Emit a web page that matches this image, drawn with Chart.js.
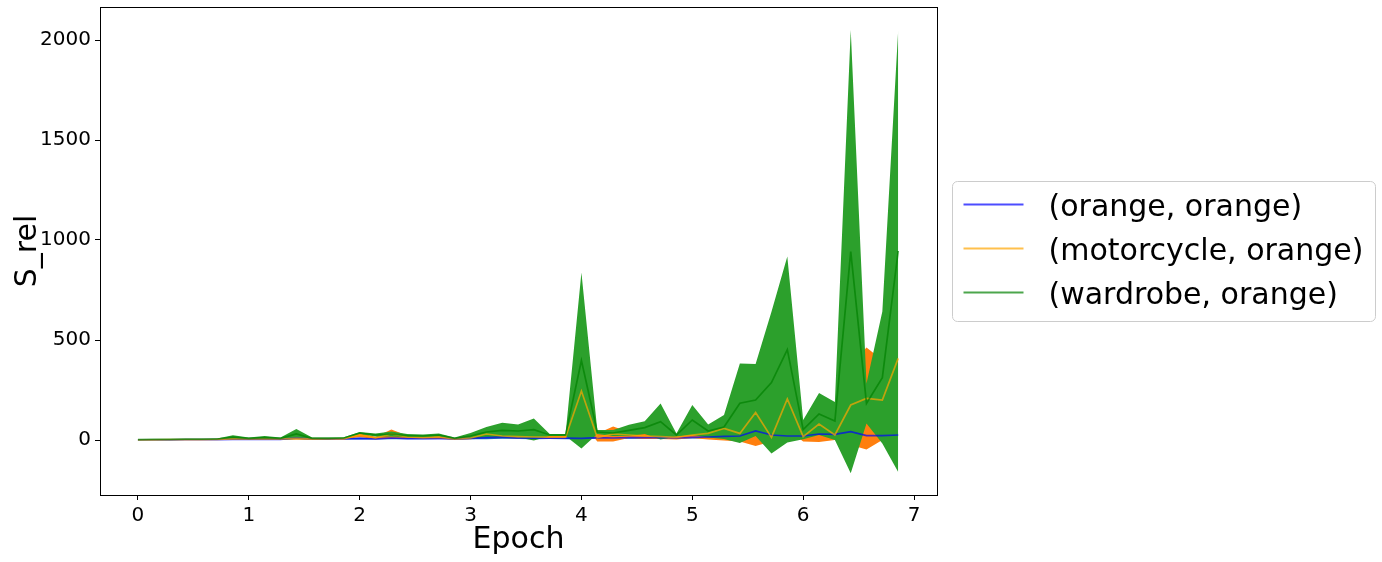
<!DOCTYPE html>
<html>
<head>
<meta charset="utf-8">
<script src="https://cdn.jsdelivr.net/npm/chart.js@4.4.0/dist/chart.umd.min.js"></script>
<style>
  html, body { margin: 0; padding: 0; background: #fff; }
</style>
</head>
<body>
<canvas id="chart" width="1382" height="562"></canvas>
<script>
// epochs (7 steps per epoch)
const epochs = [0, 0.143, 0.286, 0.429, 0.571, 0.714, 0.857, 1, 1.143, 1.286, 1.429, 1.571, 1.714, 1.857,
  2, 2.143, 2.286, 2.429, 2.571, 2.714, 2.857, 3, 3.143, 3.286, 3.429, 3.571, 3.714, 3.857,
  4, 4.143, 4.286, 4.429, 4.571, 4.714, 4.857, 5, 5.143, 5.286, 5.429, 5.571, 5.714, 5.857,
  6, 6.143, 6.286, 6.429, 6.571, 6.714, 6.857];

// (orange, orange)
const orangeMean = [0, 0.5, 1, 1.5, 2, 2, 3, 3, 4, 3, 10, 4, 4, 5, 8, 6, 10, 7, 7, 8, 6, 8, 12, 14, 10,
  9, 10, 9, 8, 12, 10, 12, 12, 13, 11, 13, 15, 18, 20, 45, 25, 20, 20, 30, 28, 42, 22, 22, 25];
const orangeStd = [0, 0.2, 0.5, 0.5, 1, 1, 2, 2, 2, 2, 6, 2, 2, 2, 5, 3, 6, 3, 3, 3, 3, 4, 8, 8, 5,
  5, 5, 5, 4, 6, 5, 6, 6, 6, 5, 6, 7, 8, 10, 15, 10, 8, 8, 10, 10, 12, 8, 8, 8];

// (motorcycle, orange)
const motoMean = [0, 1, 1.5, 2, 2, 3, 6, 5, 6, 5, 8, 4, 5, 6, 25, 10, 30, 15, 12, 14, 5, 10, 30, 20, 17,
  15, 14, 14, 245, 13, 30, 25, 20, 17, 13, 25, 33, 58, 33, 137, 13, 205, 17, 80, 25, 175, 208, 200, 408];
const motoStd = [0, 0.5, 1, 1, 1, 2, 4, 3, 4, 3, 6, 3, 3, 4, 10, 6, 22, 8, 6, 8, 4, 6, 15, 10, 8,
  8, 6, 6, 150, 20, 38, 15, 15, 12, 10, 15, 30, 60, 40, 167, 20, 150, 25, 90, 25, 200, 255, 200, 350];

// (wardrobe, orange)
const wardMean = [2, 3, 3, 4, 4, 5, 14, 8, 12, 8, 30, 8, 8, 10, 35, 25, 30, 22, 20, 25, 8, 20, 40, 48, 45,
  52, 25, 25, 397, 40, 35, 48, 62, 92, 25, 100, 45, 65, 184, 200, 287, 452, 52, 130, 95, 942, 183, 312, 945];
const wardStd = [1, 1, 1, 1, 1, 2, 10, 5, 8, 5, 25, 4, 4, 4, 5, 8, 12, 8, 8, 8, 4, 15, 25, 38, 32,
  55, 5, 5, 440, 10, 15, 28, 32, 90, 8, 75, 32, 60, 199, 180, 354, 465, 48, 105, 95, 1108, 100, 330, 1105];

const seriesNames = ['(orange, orange)', '(motorcycle, orange)', '(wardrobe, orange)'];
const xTicks = [0, 1, 2, 3, 4, 5, 6, 7];
const yTicks = [0, 500, 1000, 1500, 2000];

function pts(vals) {
  return vals.map((v, i) => ({ x: epochs[i], y: v }));
}
function band(mean, std, sign) {
  return mean.map((m, i) => ({ x: epochs[i], y: m + sign * std[i] }));
}

const lineColors = ['rgba(0,0,255,0.7)', 'rgba(255,165,0,0.7)', 'rgba(0,128,0,0.7)'];
const fillColors = ['#1f77b4', '#ff7f0e', '#2ca02c'];

function meanLine(label, data, color) {
  return { label: label, data: pts(data), borderColor: color, backgroundColor: color,
    borderWidth: 1.7, pointRadius: 0, tension: 0, fill: false };
}
function edge(data, color, fill) {
  return { label: '', data: data, borderColor: 'rgba(0,0,0,0)', backgroundColor: color,
    borderWidth: 0, pointRadius: 0, tension: 0, fill: fill };
}

// index 0 is drawn last (on top)
const datasets = [
  meanLine(seriesNames[2], wardMean, lineColors[2]),
  meanLine(seriesNames[1], motoMean, lineColors[1]),
  meanLine(seriesNames[0], orangeMean, lineColors[0]),
  edge(band(wardMean, wardStd, 1), fillColors[2], '+1'),
  edge(band(wardMean, wardStd, -1), fillColors[2], false),
  edge(band(motoMean, motoStd, 1), fillColors[1], '+1'),
  edge(band(motoMean, motoStd, -1), fillColors[1], false),
  edge(band(orangeMean, orangeStd, 1), fillColors[0], '+1'),
  edge(band(orangeMean, orangeStd, -1), fillColors[0], false)
];

// spines on all four sides + legend box at the right, outside the axes
const extras = {
  id: 'extras',
  afterDatasetsDraw(chart) {
    const a = chart.chartArea;
    const ctx = chart.ctx;
    ctx.save();
    ctx.strokeStyle = '#000';
    ctx.lineWidth = 1;
    ctx.strokeRect(Math.round(a.left) + 0.5, Math.round(a.top) + 0.5,
      Math.round(a.right - a.left), Math.round(a.bottom - a.top));
    ctx.restore();
  },
  afterDraw(chart) {
    const a = chart.chartArea;
    const ctx = chart.ctx;
    const rowH = 44;
    const boxL = Math.round(a.right) + 15.5;
    const boxW = 423;
    const boxH = 140;
    const boxT = Math.round((a.top + a.bottom) / 2 - boxH / 2) + 0.5;
    ctx.save();
    ctx.beginPath();
    ctx.roundRect(boxL, boxT, boxW, boxH, 5);
    ctx.fillStyle = 'rgba(255,255,255,0.8)';
    ctx.fill();
    ctx.strokeStyle = '#cccccc';
    ctx.lineWidth = 1;
    ctx.stroke();
    ctx.font = '30px "DejaVu Sans"';
    ctx.textBaseline = 'middle';
    ctx.fillStyle = '#000';
    seriesNames.forEach((name, i) => {
      const cy = boxT + 23 + i * rowH;
      ctx.beginPath();
      ctx.moveTo(boxL + 11, cy);
      ctx.lineTo(boxL + 71, cy);
      ctx.strokeStyle = lineColors[i];
      ctx.lineWidth = 2;
      ctx.stroke();
      ctx.fillText(name, boxL + 96, cy + 4);
    });
    ctx.restore();
  }
};

new Chart(document.getElementById('chart').getContext('2d'), {
  type: 'line',
  data: { datasets: datasets },
  plugins: [extras],
  options: {
    responsive: false,
    animation: false,
    devicePixelRatio: 1,
    layout: { padding: { top: 7, right: 445, left: 0, bottom: 0 } },
    plugins: {
      filler: { drawTime: 'beforeDatasetsDraw', propagate: false },
      tooltip: { enabled: false },
      legend: { display: false }
    },
    scales: {
      x: {
        type: 'linear',
        min: -0.342,
        max: 7.207,
        afterBuildTicks: s => { s.ticks = xTicks.map(v => ({ value: v })); },
        afterFit: s => { s.height = 67; s.paddingLeft = 0; s.paddingRight = 0; },
        grid: { display: true, drawOnChartArea: false, drawTicks: true, tickLength: 5, color: '#000' },
        border: { display: false },
        ticks: { font: { family: 'DejaVu Sans', size: 20 }, color: '#000', padding: 4, maxRotation: 0,
          callback: v => String(v) },
        title: { display: true, text: 'Epoch', font: { family: 'DejaVu Sans', size: 30 }, color: '#000', padding: { top: 0 } }
      },
      y: {
        type: 'linear',
        min: -275,
        max: 2165,
        afterBuildTicks: s => { s.ticks = yTicks.map(v => ({ value: v })); },
        afterFit: s => { s.width = 100; s.paddingTop = 0; s.paddingBottom = 0; },
        grid: { display: true, drawOnChartArea: false, drawTicks: true, tickLength: 5, color: '#000' },
        border: { display: false },
        ticks: { font: { family: 'DejaVu Sans', size: 20 }, color: '#000', padding: 4,
          callback: v => String(v) },
        title: { display: true, text: 'S_rel', font: { family: 'DejaVu Sans', size: 30 }, color: '#000',
          padding: { top: 10, bottom: 0 } }
      }
    }
  }
});
</script>
</body>
</html>
